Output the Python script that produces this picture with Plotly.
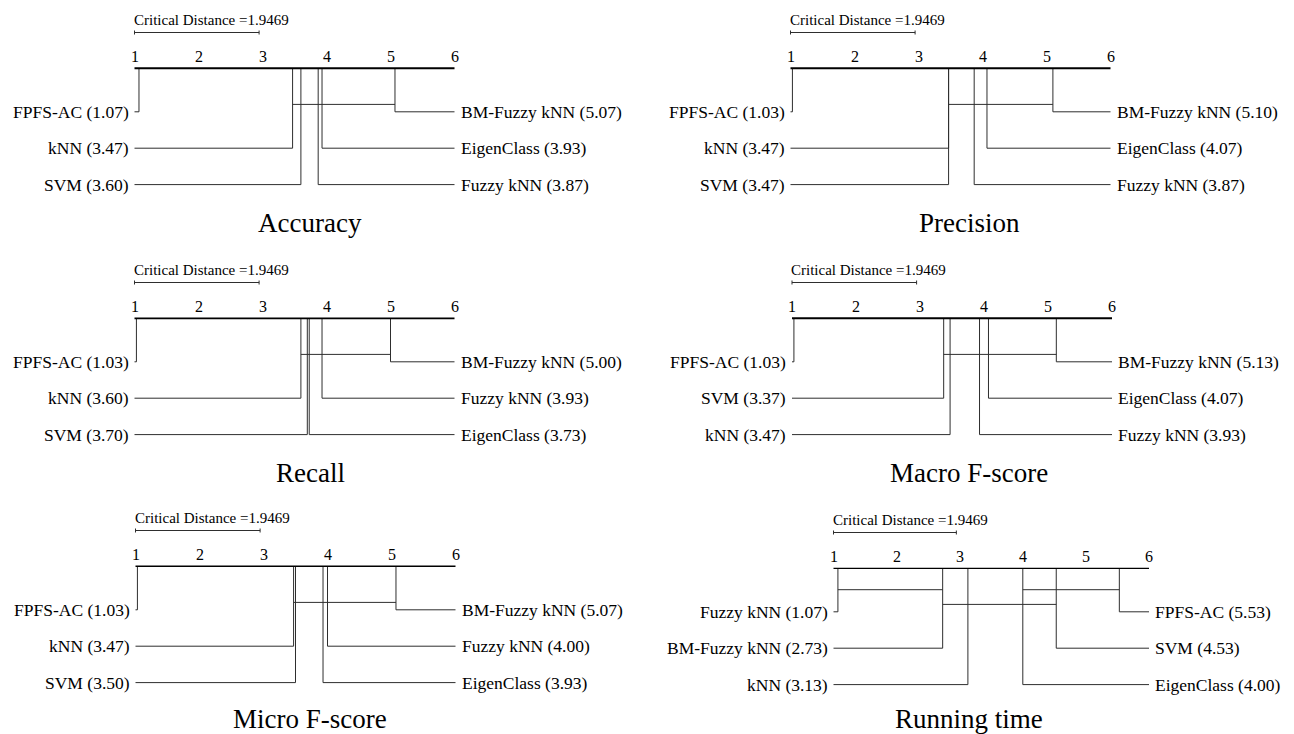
import plotly.graph_objects as go

# ---------------- data ----------------
cd_value = 1.9469
titles = ["Accuracy", "Precision", "Recall", "Macro F-score", "Micro F-score", "Running time"]

acc_names = ["FPFS-AC", "kNN", "SVM", "Fuzzy kNN", "EigenClass", "BM-Fuzzy kNN"]
acc_ranks = [1.07, 3.47, 3.60, 3.87, 3.93, 5.07]

prec_names = ["FPFS-AC", "kNN", "SVM", "Fuzzy kNN", "EigenClass", "BM-Fuzzy kNN"]
prec_ranks = [1.03, 3.47, 3.47, 3.87, 4.07, 5.10]

rec_names = ["FPFS-AC", "kNN", "SVM", "EigenClass", "Fuzzy kNN", "BM-Fuzzy kNN"]
rec_ranks = [1.03, 3.60, 3.70, 3.73, 3.93, 5.00]

macro_names = ["FPFS-AC", "SVM", "kNN", "Fuzzy kNN", "EigenClass", "BM-Fuzzy kNN"]
macro_ranks = [1.03, 3.37, 3.47, 3.93, 4.07, 5.13]

micro_names = ["FPFS-AC", "kNN", "SVM", "EigenClass", "Fuzzy kNN", "BM-Fuzzy kNN"]
micro_ranks = [1.03, 3.47, 3.50, 3.93, 4.00, 5.07]

time_names = ["Fuzzy kNN", "BM-Fuzzy kNN", "kNN", "EigenClass", "SVM", "FPFS-AC"]
time_ranks = [1.07, 2.73, 3.13, 4.00, 4.53, 5.53]

rank_ticks = [1, 2, 3, 4, 5, 6]

panel_data = [
    (acc_names, acc_ranks), (prec_names, prec_ranks),
    (rec_names, rec_ranks), (macro_names, macro_ranks),
    (micro_names, micro_ranks), (time_names, time_ranks),
]

# ---------------- layout geometry (pixels) ----------------
W, H = 1294, 734
COLW = 647
PH = 234
# (pixel x of rank 1, pixels per rank unit, panel top offset, column)
geom = [
    (134.5, 64.0, 0, 0),
    (790.5, 64.0, 0, 1),
    (134.5, 64.0, 250, 0),
    (792.0, 64.0, 250, 1),
    (135.5, 64.0, 498, 0),
    (833.5, 63.1, 500, 1),
]
axis_w = [2.0, 2.0, 1.7, 2.0, 1.4, 1.3]
CD_TEXT_Y = 19.5
CD_BAR_Y = 32.5
TICK_Y = 56.0
AXIS_Y = 68.3
ROW0_Y = 111.8
ROW_STEP = 36.4
CLQ_BOTTOM = 7.4
CLQ_STEP = 14.7
title_px = [(310, 223), (969, 223), (310, 472.5), (969, 472.5), (310, 719), (969, 719)]

FONT = "Liberation Serif, Times New Roman, serif"
LINE_C = "#2e2e2e"


def get_cliques(r, cd):
    n = len(r)
    pairs = [(i, j) for i in range(n) for j in range(i + 1, n) if abs(r[j] - r[i]) <= cd]

    def longest(p):
        i, j = p
        for i1, j1 in pairs:
            if (i1 <= i and j1 > j) or (i1 < i and j1 >= j):
                return False
        return True
    return [p for p in pairs if longest(p)]


def assign_levels(cl, r):
    levels = []
    out = []
    for (i, j) in cl:
        lv = 0
        while True:
            if lv >= len(levels):
                levels.append([])
            if all(r[j] < r[a] or r[i] > r[b] for a, b in levels[lv]):
                levels[lv].append((i, j))
                out.append(lv)
                break
            lv += 1
    return out, len(levels)


fig = go.Figure()
annotations = []
layout_axes = {}

for p, ((names, ranks), (x1, unit, top, col)) in enumerate(zip(panel_data, geom)):
    sfx = "" if p == 0 else str(p + 1)
    xa, ya = "x" + sfx, "y" + sfx
    px0 = col * COLW
    layout_axes["xaxis" + sfx] = dict(
        domain=[col * 0.5, col * 0.5 + 0.5],
        range=[1 + (px0 - x1) / unit, 1 + (px0 + COLW - x1) / unit],
        visible=False, anchor=ya, fixedrange=True)
    layout_axes["yaxis" + sfx] = dict(
        domain=[1 - (top + PH) / H, 1 - top / H],
        range=[PH, 0], visible=False, anchor=xa, fixedrange=True)

    lowv, highv = rank_ticks[0], rank_ticks[-1]
    k = len(ranks)
    half = (k + 1) // 2

    # connector elbows
    xs, ys = [], []
    for i in range(k):
        if i < half:
            row = i
            end = lowv
        else:
            row = k - i - 1
            end = highv
        yrow = ROW0_Y + row * ROW_STEP
        xs += [ranks[i], ranks[i], end, None]
        ys += [AXIS_Y, yrow, yrow, None]

    # cliques
    cl = get_cliques(ranks, cd_value)
    lvls, nlev = assign_levels(cl, ranks)
    for (i, j), lv in zip(cl, lvls):
        yc = ROW0_Y - CLQ_BOTTOM - CLQ_STEP * (nlev - 1 - lv)
        xs += [ranks[i], ranks[j], None]
        ys += [yc, yc, None]

    # CD bar with end ticks
    xs += [lowv, lowv + cd_value, None, lowv, lowv, None, lowv + cd_value, lowv + cd_value, None]
    ys += [CD_BAR_Y, CD_BAR_Y, None, CD_BAR_Y - 2, CD_BAR_Y + 2, None, CD_BAR_Y - 2, CD_BAR_Y + 2, None]

    fig.add_trace(go.Scatter(x=xs, y=ys, xaxis=xa, yaxis=ya, mode="lines",
                             line=dict(color=LINE_C, width=1), hoverinfo="skip",
                             showlegend=False))
    # main axis
    fig.add_trace(go.Scatter(x=[lowv, highv], y=[AXIS_Y, AXIS_Y], xaxis=xa, yaxis=ya,
                             mode="lines", line=dict(color="black", width=axis_w[p]),
                             hoverinfo="skip", showlegend=False))

    # texts
    annotations.append(dict(x=lowv, y=CD_TEXT_Y, xref=xa, yref=ya, xanchor="left",
                            yanchor="middle", xshift=-3, showarrow=False,
                            text=f"Critical Distance ={cd_value:.4f}",
                            font=dict(family=FONT, size=15, color="black")))
    for t in rank_ticks:
        annotations.append(dict(x=t, y=TICK_Y, xref=xa, yref=ya, xanchor="center",
                                yanchor="middle", showarrow=False, text=str(t),
                                font=dict(family=FONT, size=16, color="black")))
    for i in range(k):
        if i < half:
            row, xpos, anc, sh = i, lowv, "right", -4
        else:
            row, xpos, anc, sh = k - i - 1, highv, "left", 4
        annotations.append(dict(x=xpos, y=ROW0_Y + row * ROW_STEP, xref=xa, yref=ya,
                                xanchor=anc, yanchor="middle", xshift=sh, showarrow=False,
                                text=f"{names[i]} ({ranks[i]:.2f})",
                                font=dict(family=FONT, size=17.5, color="black")))
    tx, ty = title_px[p]
    annotations.append(dict(x=tx / W, y=1 - ty / H, xref="paper", yref="paper",
                            xanchor="center", yanchor="middle", showarrow=False,
                            text=titles[p],
                            font=dict(family=FONT, size=27, color="black")))

fig.update_layout(width=W, height=H, margin=dict(l=0, r=0, t=0, b=0),
                  paper_bgcolor="white", plot_bgcolor="rgba(0,0,0,0)",
                  annotations=annotations, showlegend=False, hovermode=False,
                  **layout_axes)
fig.write_html("out.html", config={"displayModeBar": False},
               post_script="document.body.style.margin='0';document.body.style.padding='0';"
                           "document.body.style.overflow='hidden';")
